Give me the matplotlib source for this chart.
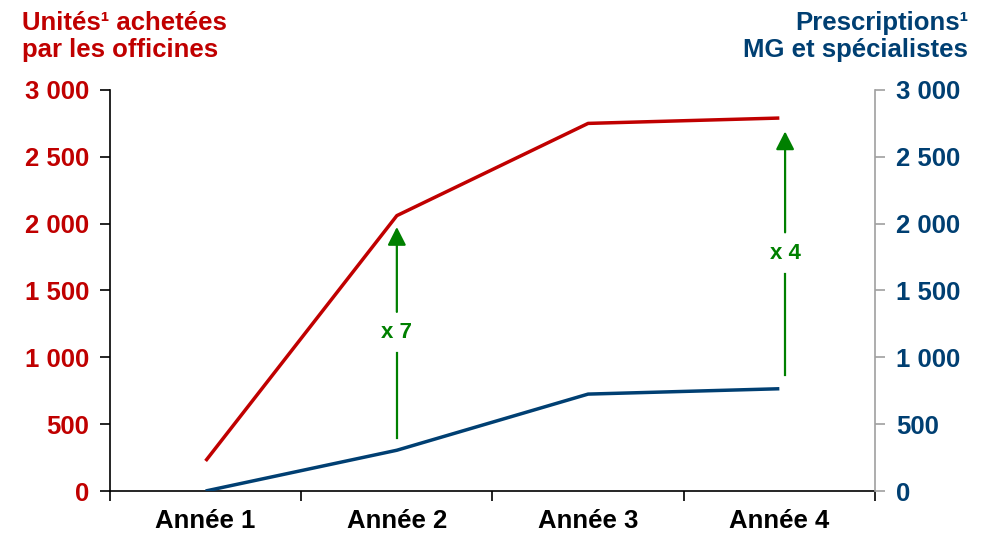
import numpy as np
import matplotlib.pyplot as plt
from matplotlib.ticker import FuncFormatter

plt.rcParams["font.family"] = ["Liberation Sans", "DejaVu Sans"]
plt.rcParams["font.weight"] = "bold"

annees = ["Année 1", "Année 2", "Année 3", "Année 4"]
unites_officines = [225, 2060, 2750, 2790]
prescriptions = [0, 305, 725, 765]

# flèches multiplicatrices : (x, départ, fin, libellé)
fleches = [
    (1.0, 395, 1975, "x 7"),
    (3.03, 870, 2690, "x 4"),
]

rouge = "#C00000"
bleu = "#003F72"
vert = "#008000"
gris = "#A0A0A0"


def fmt_milliers(v, pos):
    return f"{int(v):,}".replace(",", " ")


fig = plt.figure(figsize=(9.88, 5.34), dpi=100)
ax = fig.add_axes([0.1113, 0.0805, 0.7743, 0.751])
ax2 = ax.twinx()

x = np.arange(len(annees))
ax.plot(x, unites_officines, color=rouge, lw=2.5, solid_capstyle="butt")
ax2.plot(x, prescriptions, color=bleu, lw=2.5, solid_capstyle="butt")

for ax_ in (ax, ax2):
    ax_.set_xlim(-0.5, 3.5)
    ax_.set_ylim(0, 3000)
    ax_.set_yticks(np.arange(0, 3001, 500))
    ax_.yaxis.set_major_formatter(FuncFormatter(fmt_milliers))
    ax_.spines["top"].set_visible(False)

ax.spines["right"].set_visible(False)
ax.spines["left"].set_color("black")
ax.spines["bottom"].set_color("black")
ax.spines["left"].set_linewidth(1.2)
ax.spines["bottom"].set_linewidth(1.2)
ax2.spines["left"].set_visible(False)
ax2.spines["bottom"].set_visible(False)
ax2.spines["right"].set_color(gris)
ax2.spines["right"].set_linewidth(1.2)

ax.tick_params(axis="y", colors=rouge, labelsize=18.5, length=7, width=1.2,
               pad=8, color="black")
ax2.tick_params(axis="y", colors=bleu, labelsize=18.5, length=7, width=1.2,
                pad=8, color=gris)

ax.set_xticks(x)
ax.set_xticklabels(annees, fontsize=18.5, color="black")
ax.set_xticks(np.arange(-0.5, 3.6, 1.0), minor=True)
ax.tick_params(axis="x", which="major", length=0, pad=13)
ax.tick_params(axis="x", which="minor", length=7, width=1.2, color="black")

# flèches vertes avec le facteur au milieu
for xf, y0, y1, lab in fleches:
    ym = (y0 + y1) / 2
    gap = 155
    ax.plot([xf, xf], [y0, ym - gap], color=vert, lw=1.6)
    ax.annotate("", xy=(xf, y1), xytext=(xf, ym + gap),
                arrowprops=dict(arrowstyle="-|>,head_length=0.55,head_width=0.28",
                                mutation_scale=20, color=vert, lw=1.6,
                                shrinkA=0, shrinkB=0))
    ax.text(xf, ym, lab, color=vert, fontsize=16, ha="center", va="center")

fig.text(0.022, 0.98, "Unités¹ achetées\npar les officines", color=rouge,
         fontsize=18.5, ha="left", va="top", linespacing=1.15)
fig.text(0.98, 0.98, "Prescriptions¹\nMG et spécialistes", color=bleu,
         fontsize=18.5, ha="right", va="top", linespacing=1.15)

fig.savefig("out.png", dpi=100)
